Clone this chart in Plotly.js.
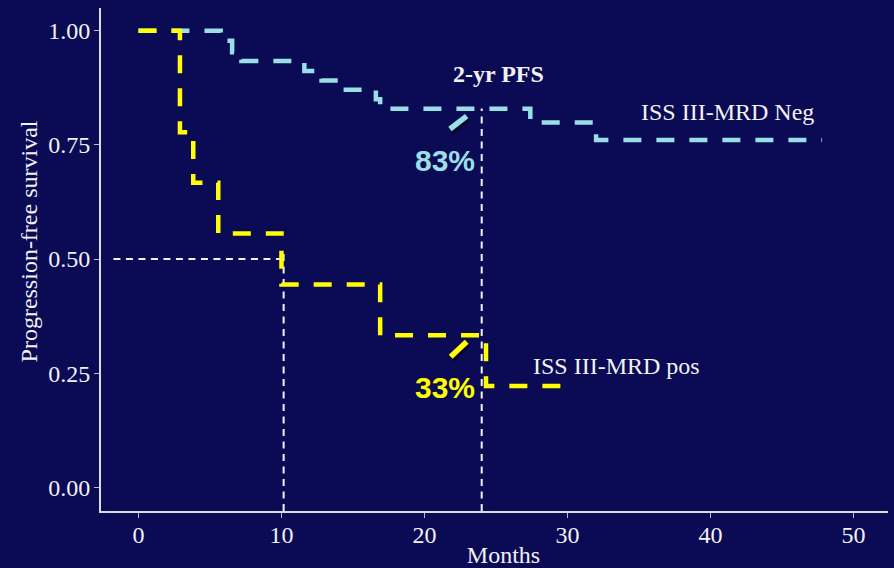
<!DOCTYPE html>
<html>
<head>
<meta charset="utf-8">
<script src="https://cdn.plot.ly/plotly-3.0.1.min.js"></script>
<style>
  html, body { margin: 0; padding: 0; background: #0a0a55; }
  #chart { width: 894px; height: 568px; }
</style>
</head>
<body>
<div id="chart"></div>
<script>
// ---- Data ----
// ISS III - MRD negative (cyan)
const negTime = [0, 5.75, 6.55, 7.2, 11.6, 12.8, 14.5, 16.6, 16.9, 27.4, 32.0, 47.8];
const negSurv = [1.0, 0.978, 0.953, 0.934, 0.912, 0.891, 0.871, 0.85, 0.829, 0.799, 0.761, 0.761];
// ISS III - MRD positive (yellow)
const posTime = [0, 2.9, 3.83, 5.58, 10.0, 16.9, 24.3, 30.2];
const posSurv = [1.0, 0.778, 0.667, 0.556, 0.444, 0.333, 0.222, 0.222];
// Reference guides
const medianPosTime = 10.15;
const medianLevel = 0.5;
const pfsTime = 24;
const pfsNeg = 0.83;
const pfsPos = 0.333;
const xTicks = [0, 10, 20, 30, 40, 50];
const yTicks = [0, 0.25, 0.5, 0.75, 1.0];
const yTickText = ['0.00', '0.25', '0.50', '0.75', '1.00'];
const labels = { neg: 'ISS III-MRD Neg', pos: 'ISS III-MRD pos', pfs: '2-yr PFS', negPct: '83%', posPct: '33%' };

// ---- Styles ----
const BG = '#0a0a55';
const CYAN = '#9adfe6';
const YELLOW = '#ffff00';
const WHITE = '#f2f2f2';
const SERIF = 'Liberation Serif, Times New Roman, serif';
const SANS = 'Liberation Sans, Arial, sans-serif';
const FS = 24;
const yBottom = -0.052;
const xLeft = -1.75;

const guide = { color: WHITE, width: 2, dash: '7px,5.5px' };

const traces = [
  // guides
  { x: [xLeft, medianPosTime], y: [medianLevel, medianLevel], mode: 'lines', line: guide, hoverinfo: 'skip' },
  { x: [medianPosTime, medianPosTime], y: [yBottom, medianLevel + 0.02], mode: 'lines', line: guide, hoverinfo: 'skip' },
  { x: [pfsTime, pfsTime], y: [yBottom, pfsNeg], mode: 'lines', line: guide, hoverinfo: 'skip' },
  // curves
  { x: negTime, y: negSurv, mode: 'lines', line: { color: CYAN, width: 4.5, shape: 'hv', dash: '18px,15px' }, name: labels.neg },
  { x: posTime, y: posSurv, mode: 'lines', line: { color: YELLOW, width: 4.5, shape: 'hv', dash: '18px,15px' }, name: labels.pos },
  // pointer shadows
  { x: [21.9, 23.05], y: [0.779, 0.807], mode: 'lines', line: { color: 'rgba(0,0,0,0.45)', width: 6 }, hoverinfo: 'skip' },
  { x: [21.93, 23.05], y: [0.280, 0.313], mode: 'lines', line: { color: 'rgba(0,0,0,0.45)', width: 6 }, hoverinfo: 'skip' },
  // pointers
  { x: [21.78, 22.95], y: [0.785, 0.813], mode: 'lines', line: { color: CYAN, width: 5.5 }, hoverinfo: 'skip' },
  { x: [21.83, 22.95], y: [0.286, 0.319], mode: 'lines', line: { color: YELLOW, width: 5.5 }, hoverinfo: 'skip' }
];

const layout = {
  width: 894, height: 568,
  paper_bgcolor: BG, plot_bgcolor: BG,
  showlegend: false,
  margin: { l: 101, r: 6, t: 8, b: 57 },
  font: { family: SERIF, color: WHITE, size: FS },
  xaxis: {
    range: [-2.62, 52.41], tickvals: xTicks, ticktext: xTicks.map(String),
    showgrid: false, zeroline: false, showline: true, linecolor: '#dcdcdc', linewidth: 2,
    ticks: 'outside', ticklen: 5, tickwidth: 1, tickcolor: '#bdbdbd', ticklabelstandoff: -4,
    tickfont: { family: SERIF, size: FS, color: WHITE },
    title: { text: '&nbsp;&nbsp;&nbsp;Months', font: { family: SERIF, size: FS, color: WHITE }, standoff: 4 }
  },
  yaxis: {
    range: [yBottom, 1.05], tickvals: yTicks, ticktext: yTickText,
    showgrid: false, zeroline: false, showline: true, linecolor: '#dcdcdc', linewidth: 2,
    ticks: 'outside', ticklen: 5, tickwidth: 1, tickcolor: '#bdbdbd', ticklabelstandoff: -1,
    tickfont: { family: SERIF, size: FS, color: WHITE },
    title: { text: '&nbsp;&nbsp;&nbsp;&nbsp;&nbsp;&nbsp;Progression-free survival', font: { family: SERIF, size: FS, color: WHITE }, standoff: 4 }
  },
  annotations: [
    { x: 25.2, y: 0.905, xref: 'x', yref: 'y', text: '<b>' + labels.pfs + '</b>', showarrow: false,
      font: { family: SERIF, size: FS, color: WHITE }, xanchor: 'center', yanchor: 'middle' },
    { x: 41.2, y: 0.823, xref: 'x', yref: 'y', text: labels.neg, showarrow: false,
      font: { family: SERIF, size: FS, color: WHITE }, xanchor: 'center', yanchor: 'middle' },
    { x: 33.4, y: 0.266, xref: 'x', yref: 'y', text: labels.pos, showarrow: false,
      font: { family: SERIF, size: FS, color: WHITE }, xanchor: 'center', yanchor: 'middle' },
    { x: 21.4, y: 0.717, xref: 'x', yref: 'y', text: '<b>' + labels.negPct + '</b>', showarrow: false,
      font: { family: SANS, size: 30, color: CYAN }, xanchor: 'center', yanchor: 'middle' },
    { x: 21.4, y: 0.2175, xref: 'x', yref: 'y', text: '<b>' + labels.posPct + '</b>', showarrow: false,
      font: { family: SANS, size: 30, color: YELLOW }, xanchor: 'center', yanchor: 'middle' }
  ]
};

Plotly.newPlot('chart', traces, layout, { staticPlot: true, displayModeBar: false });
</script>
</body>
</html>
